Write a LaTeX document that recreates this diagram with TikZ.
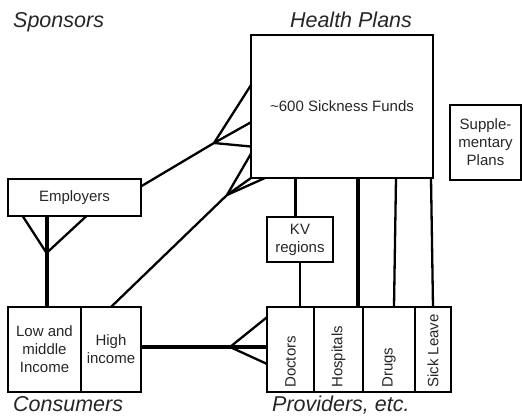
\documentclass[tikz,border=0pt]{standalone}
\usepackage{fontspec}
\setmainfont{Liberation Sans}
\usetikzlibrary{positioning,calc}
\tikzset{
  bx/.style={draw, line width=2.6pt, outer sep=0pt, inner sep=0pt, align=center, font=\fontsize{15}{18}\selectfont, text=black!85},
  vt/.style={rotate=90, anchor=west, inner sep=0pt, font=\fontsize{15}{18}\selectfont, text=black!85},
  hd/.style={anchor=west, inner sep=0pt, font=\fontsize{21.5}{24}\selectfont\itshape, text=black!85},
  fl/.style={line width=2.3pt},
  tk/.style={line width=4pt},
}
\begin{document}
\begin{tikzpicture}[x=1pt, y=-1pt]
\useasboundingbox (0,0) rectangle (522,417);
% plans
\node[bx, minimum width=182pt, minimum height=143pt] (sf) at (342,106.5) {\textasciitilde 600 Sickness Funds};
\node[bx, minimum width=71pt, minimum height=75pt] (supp) at (485.5,142.5) {Supple-\\mentary\\Plans};
% sponsors and consumers
\node[bx, minimum width=133pt, minimum height=37pt] (emp) at (74.5,197.5) {Employers};
\node[bx, minimum width=73pt, minimum height=85pt] (low) at (44.5,349.5) {Low and\\middle\\Income};
\node[bx, minimum width=60pt, minimum height=85pt, right=0pt of low] (high) {High\\income};
% providers
\node[bx, minimum width=66pt, minimum height=45pt] (kv) at (300,239.5) {KV\\regions};
\node[bx, minimum width=47pt, minimum height=85pt] (doc) at (290.5,349.5) {};
\node[bx, minimum width=49pt, minimum height=85pt, right=0pt of doc] (hosp) {};
\node[bx, minimum width=52pt, minimum height=85pt, right=0pt of hosp] (drugs) {};
\node[bx, minimum width=36pt, minimum height=85pt, right=0pt of drugs] (sick) {};
\node[vt] (doct) at ([yshift=4pt]doc.south) {Doctors};
\node[vt] (hospt) at ([yshift=4pt]hosp.south) {Hospitals};
\node[vt] (drugst) at ([yshift=4pt]drugs.south) {Drugs};
\node[vt] (sickt) at ([yshift=4pt]sick.south) {Sick Leave};
% headings
\node[hd] (spon) at (13,22) {Sponsors};
\node[hd, anchor=center] (hplan) at (351,20) {Health Plans};
\node[hd, anchor=base west] (cons) at (13,411) {Consumers};
\node[hd, anchor=base west] (prov) at (272,411) {Providers, etc.};
% employers -> funds
\coordinate (ef) at (214,143);
\draw[fl] ($(emp.north east)!0.2!(emp.south east)$) -- (ef);
\foreach \f in {0.35,0.61,0.78}
  \draw[fl] (ef) -- ($(sf.north west)!\f!(sf.south west)$);
% high income -> funds
\coordinate (hf) at (227,195);
\draw[fl] (high.north) -- (hf);
\draw[fl] (hf) -- ($(sf.north west)!0.83!(sf.south west)$);
\draw[fl] (hf) -- (sf.south west);
\draw[fl] (hf) -- ([xshift=14pt]sf.south west);
% employers -> consumers
\coordinate (cf) at ($(emp.south west)!0.29!(emp.south east)+(0,37)$);
\foreach \f in {0.11,0.59}
  \draw[fl] (cf) -- ($(emp.south west)!\f!(emp.south east)$);
\draw[tk] ($(emp.south west)!0.29!(emp.south east)$) -- (cf |- low.north);
% consumers -> providers
\coordinate (df) at (230,347);
\draw[tk] ([yshift=2.5pt]high.east) -- ([yshift=2.5pt]high.east -| doc.west);
\draw[fl] (df) -- ($(doc.north west)!0.12!(doc.south west)$);
\draw[fl] (df) -- ($(doc.north west)!0.67!(doc.south west)$);
% funds -> providers
\draw[fl, line width=3pt] ([xshift=-5pt]kv.north) -- ([xshift=-5pt]kv.north |- sf.south);
\draw[fl] (kv.south) -- (kv.south |- doc.north);
\draw[tk] ([xshift=-5pt]hosp.north east) -- ([xshift=-5pt]hosp.north east |- sf.south);
\draw[fl] ([xshift=5pt]drugs.north) -- ([xshift=7pt]drugs.north |- sf.south);
\draw[fl] (sick.north) -- ([xshift=-2pt]sick.north |- sf.south);
\end{tikzpicture}
\end{document}
